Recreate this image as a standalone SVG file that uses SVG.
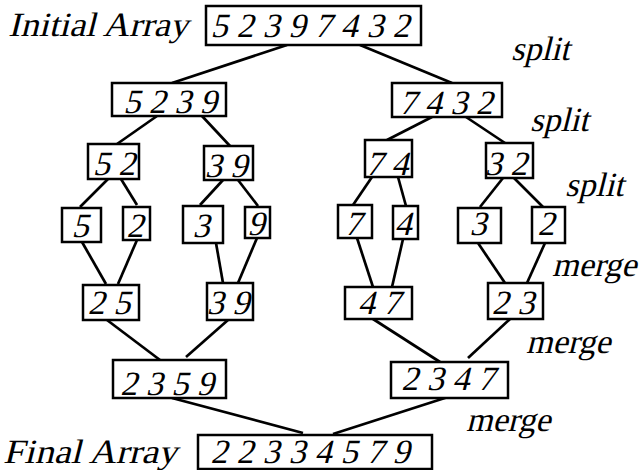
<svg xmlns="http://www.w3.org/2000/svg" width="643" height="470" viewBox="0 0 643 470">
<style>
text{font-family:"Liberation Serif","Times New Roman",serif;font-size:34px;fill:#000}
.n text{text-anchor:middle}
rect{fill:#fff;stroke:#000;stroke-width:2.5}
#connectors line{stroke:#000;stroke-width:2.7;stroke-linecap:butt}
</style>
<rect x="0" y="0" width="643" height="470" style="stroke:none"/>
<g id="connectors">
<line x1="287" y1="45" x2="172" y2="83"/>
<line x1="360" y1="45" x2="452" y2="83"/>
<line x1="157" y1="116" x2="117" y2="144"/>
<line x1="202" y1="116" x2="230" y2="146"/>
<line x1="432" y1="117" x2="387" y2="140"/>
<line x1="466" y1="117" x2="505" y2="143"/>
<line x1="108" y1="179" x2="80" y2="207"/>
<line x1="121" y1="179" x2="137" y2="205"/>
<line x1="223" y1="180" x2="200" y2="205"/>
<line x1="238" y1="180" x2="258" y2="206"/>
<line x1="372" y1="177" x2="353" y2="205"/>
<line x1="398" y1="177" x2="406" y2="206"/>
<line x1="503" y1="178" x2="480" y2="207"/>
<line x1="514" y1="178" x2="543" y2="207"/>
<line x1="82" y1="242" x2="106" y2="284"/>
<line x1="137" y1="240" x2="118" y2="284"/>
<line x1="216" y1="243" x2="223" y2="283"/>
<line x1="257" y1="238" x2="238" y2="283"/>
<line x1="357" y1="238" x2="373" y2="287"/>
<line x1="403" y1="239" x2="392" y2="287"/>
<line x1="478" y1="243" x2="505" y2="283"/>
<line x1="545" y1="243" x2="527" y2="283"/>
<line x1="107" y1="320" x2="160" y2="360"/>
<line x1="228" y1="320" x2="186" y2="357"/>
<line x1="373" y1="319" x2="440" y2="362"/>
<line x1="510" y1="319" x2="468" y2="358"/>
<line x1="172" y1="398" x2="303" y2="433"/>
<line x1="448" y1="397" x2="333" y2="434"/>
</g>
<g id="label-initial"><text transform="translate(8 36) skewX(-14)" textLength="180" lengthAdjust="spacingAndGlyphs">Initial Array</text></g>
<g id="label-final"><text transform="translate(3 463) skewX(-14)" textLength="174" lengthAdjust="spacingAndGlyphs">Final Array</text></g>
<g id="label-split1"><text transform="translate(511 60) skewX(-14)">split</text></g>
<g id="label-split2"><text transform="translate(530 131) skewX(-14)">split</text></g>
<g id="label-split3"><text transform="translate(565 196) skewX(-14)">split</text></g>
<g id="label-merge1"><text transform="translate(552 276) skewX(-14)">merge</text></g>
<g id="label-merge2"><text transform="translate(526 353) skewX(-14)">merge</text></g>
<g id="label-merge3"><text transform="translate(466 431) skewX(-14)">merge</text></g>
<g id="n-initial" class="n"><rect x="206" y="6" width="215" height="39"/><text transform="translate(310 37) skewX(-14)" textLength="199">5 2 3 9 7 4 3 2</text></g>
<g id="n-5239" class="n"><rect x="112" y="83" width="114" height="33"/><text transform="translate(170 113) skewX(-14)">5 2 3 9</text></g>
<g id="n-7432" class="n"><rect x="392" y="83" width="110" height="34"/><text transform="translate(446 114) skewX(-14)">7 4 3 2</text></g>
<g id="n-52" class="n"><rect x="88" y="144" width="51" height="35"/><text transform="translate(114 175) skewX(-14)">5 2</text></g>
<g id="n-39a" class="n"><rect x="204" y="146" width="49" height="34"/><text transform="translate(226 177) skewX(-14)">3 9</text></g>
<g id="n-74" class="n"><rect x="365" y="140" width="47" height="37"/><text transform="translate(387 175) skewX(-14)">7 4</text></g>
<g id="n-32" class="n"><rect x="486" y="143" width="47" height="35"/><text transform="translate(506 175) skewX(-14)">3 2</text></g>
<g id="n-5" class="n"><rect x="62" y="208" width="39" height="34"/><text transform="translate(80 237) skewX(-14)">5</text></g>
<g id="n-2a" class="n"><rect x="123" y="207" width="27" height="33"/><text transform="translate(135 237) skewX(-14)">2</text></g>
<g id="n-3a" class="n"><rect x="183" y="206" width="40" height="37"/><text transform="translate(201 237) skewX(-14)">3</text></g>
<g id="n-9" class="n"><rect x="245" y="207" width="25" height="31"/><text transform="translate(256 235) skewX(-14)">9</text></g>
<g id="n-7" class="n"><rect x="338" y="205" width="34" height="33"/><text transform="translate(353 235) skewX(-14)">7</text></g>
<g id="n-4" class="n"><rect x="393" y="206" width="25" height="33"/><text transform="translate(403 235) skewX(-14)">4</text></g>
<g id="n-3b" class="n"><rect x="458" y="208" width="43" height="35"/><text transform="translate(478 235) skewX(-14)">3</text></g>
<g id="n-2b" class="n"><rect x="532" y="207" width="33" height="36"/><text transform="translate(546 235) skewX(-14)">2</text></g>
<g id="n-25" class="n"><rect x="83" y="285" width="56" height="35"/><text transform="translate(109 314) skewX(-14)">2 5</text></g>
<g id="n-39b" class="n"><rect x="207" y="283" width="46" height="37"/><text transform="translate(228 314) skewX(-14)">3 9</text></g>
<g id="n-47" class="n"><rect x="345" y="287" width="67" height="32"/><text transform="translate(379 314) skewX(-14)">4 7</text></g>
<g id="n-23" class="n"><rect x="488" y="283" width="55" height="36"/><text transform="translate(513 314) skewX(-14)">2 3</text></g>
<g id="n-2359" class="n"><rect x="113" y="360" width="113" height="38"/><text transform="translate(167 395) skewX(-14)">2 3 5 9</text></g>
<g id="n-2347" class="n"><rect x="391" y="362" width="117" height="36"/><text transform="translate(448 390) skewX(-14)">2 3 4 7</text></g>
<g id="n-final" class="n"><rect x="198" y="435" width="234" height="34"/><text transform="translate(310 463) skewX(-14)" textLength="199">2 2 3 3 4 5 7 9</text></g>
</svg>
